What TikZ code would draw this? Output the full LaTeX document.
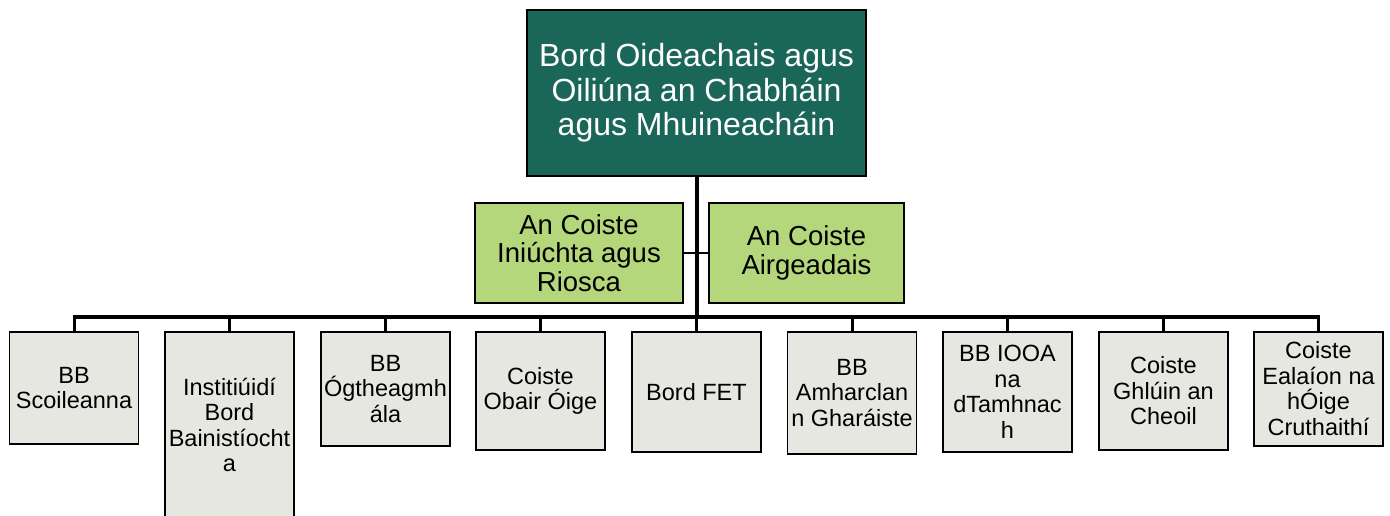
\documentclass[tikz,border=0pt]{standalone}
\usepackage{fontspec}
\setmainfont{Liberation Sans}
\definecolor{teal}{RGB}{26,102,89}
\definecolor{leaf}{RGB}{181,215,123}
\definecolor{paper}{RGB}{231,231,226}
\begin{document}
\begin{tikzpicture}[x=1pt,y=-1pt,
  topbox/.style={draw=black,line width=1.6pt,fill=teal,text=white,align=center,inner sep=0pt,
    minimum width=339pt,minimum height=166pt,font=\fontsize{32}{34.5}\selectfont},
  asstbox/.style={draw=black,line width=1.6pt,fill=leaf,align=center,inner sep=0pt,
    minimum height=100pt,font=\fontsize{27.5}{28.5}\selectfont},
  childbox/.style={draw=black,line width=1.6pt,fill=paper,align=center,inner sep=0pt,
    minimum width=129pt,font=\fontsize{23.5}{25.5}\selectfont},
  trunk/.style={line width=4pt},
  bus/.style={line width=3.6pt},
  stub/.style={line width=3pt},
  link/.style={line width=2.8pt}]
\useasboundingbox (0,0) rectangle (1390,515);
\begin{scope}
\clip (0,0) rectangle (1390,515);
% top
\node[topbox] (top) at (696.5,93) {Bord Oideachais agus\\Oiliúna an Chabháin\\agus Mhuineacháin};
% bus coordinates
\coordinate (busL) at (72.5,317);
\coordinate (busR) at (1320,317);
\coordinate (busM) at (696.5,317);
% assistants
\node[asstbox,minimum width=208pt] (a1) at (579,253) {An Coiste\\Iniúchta agus\\Riosca};
\node[asstbox,minimum width=195pt] (a2) at (806.5,253) {An Coiste\\Airgeadais};
% children
\node[childbox,minimum height=112pt,anchor=north] (c1) at (74,331) {BB\\Scoileanna};
\node[childbox,minimum height=186pt,anchor=north] (c2) at (229.5,331) {Institiúidí\\Bord\\Bainistíocht\\a};
\node[childbox,minimum height=114pt,anchor=north] (c3) at (385.5,331) {BB\\Ógtheagmh\\ála};
\node[childbox,minimum height=118pt,anchor=north] (c4) at (540.5,331) {Coiste\\Obair Óige};
\node[childbox,minimum height=120pt,anchor=north] (c5) at (696.5,331) {Bord FET};
\node[childbox,minimum height=122pt,anchor=north] (c6) at (852,331) {BB\\Amharclan\\n Gharáiste};
\node[childbox,minimum height=120pt,anchor=north] (c7) at (1007.5,331) {BB IOOA\\na\\dTamhnac\\h};
\node[childbox,minimum height=118pt,anchor=north] (c8) at (1163.5,331) {Coiste\\Ghlúin an\\Cheoil};
\node[childbox,minimum height=114pt,anchor=north] (c9) at (1318.5,331) {Coiste\\Ealaíon na\\hÓige\\Cruthaithí};
% connectors
\draw[link] (a1.east) -- (a2.west);
\draw[trunk] (top.south) -- (busM);
\draw[bus] (busL) -- (busR);
\foreach \c in {c1,c2,c3,c4,c5,c6,c7,c8,c9}
  \draw[stub] (\c.north) -- (\c.north |- busM);
\end{scope}
\end{tikzpicture}
\end{document}
